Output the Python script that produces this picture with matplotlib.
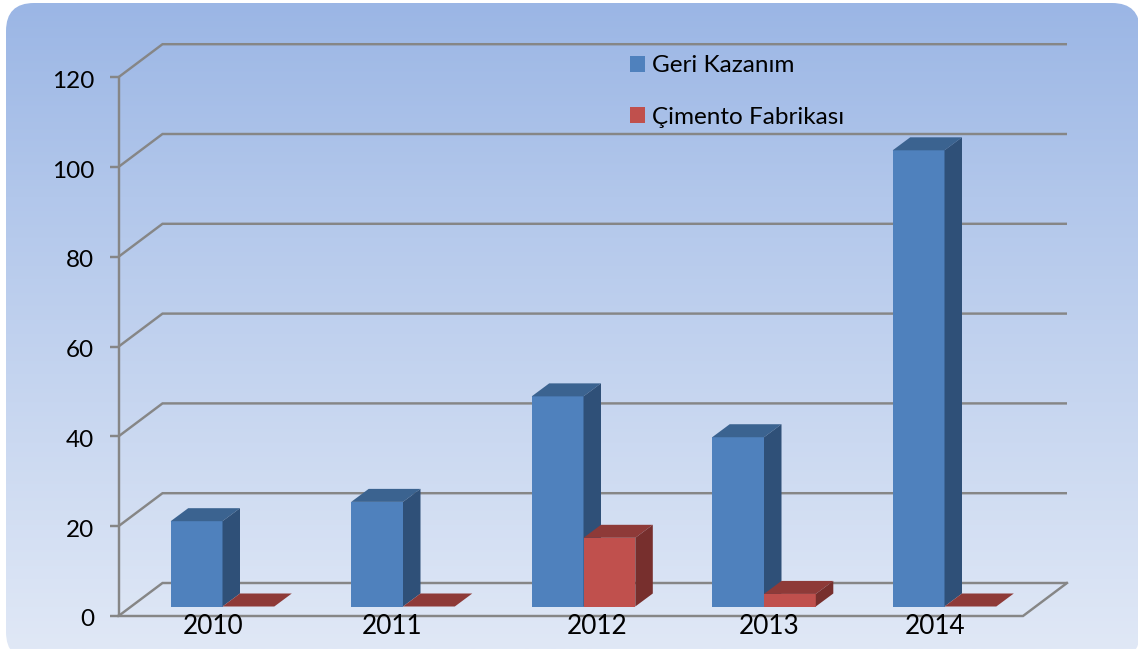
import numpy as np
import matplotlib
matplotlib.use("Agg")
import matplotlib.pyplot as plt
from matplotlib.patches import FancyBboxPatch, Polygon, Patch
from matplotlib.transforms import Affine2D

years = ["2010", "2011", "2012", "2013", "2014"]
geri_kazanim = [19, 23.3, 46.8, 37.7, 101.6]
cimento = [0, 0, 15.3, 2.8, 0]
y_ticks = [0, 20, 40, 60, 80, 100, 120]
series_names = ["Geri Kazanım", "Çimento Fabrikası"]

W, H = 1138, 649
X0, PX_X = 118.5, 180.9      # pixel of category 0, pixels per category
Y0, PX_Y = 616.0, 4.49       # pixel of value 0, pixels per value
to_x = lambda px: px / PX_X
to_y = lambda px: px / PX_Y

plt.rcParams["font.family"] = ["Lato", "DejaVu Sans"]
fig = plt.figure(figsize=(W / 100, H / 100), dpi=100, facecolor="white")
ax = fig.add_axes([0, 0, 1, 1])
xlim = ((0 - X0) / PX_X, (W - X0) / PX_X)
ylim = ((Y0 - H) / PX_Y, Y0 / PX_Y)
ax.axis("off")

# rounded panel with vertical gradient
top_c = np.array([155, 182, 229]) / 255
mid_c = np.array([178, 199, 235]) / 255
bot_c = np.array([224, 232, 246]) / 255
t = np.linspace(0, 1, 256)[:, None]
grad = np.where(t < 0.3, top_c + (mid_c - top_c) * (t / 0.3),
                mid_c + (bot_c - mid_c) * ((t - 0.3) / 0.7))[:, None, :]
panel_l, panel_r = to_x(6 - X0), to_x(1150 - X0)
panel_t = to_y(Y0 - 3)
im = ax.imshow(grad, extent=(panel_l, panel_r, to_y(Y0 - 649), panel_t),
               origin="upper", aspect="auto", zorder=0)
ax.set_xlim(*xlim)
ax.set_ylim(*ylim)

# rounded clip is defined in pixel space so the corners stay circular
clip = FancyBboxPatch((6 + 28, 649 - 660 + 28), 1078, 601,
                      boxstyle="round,pad=28,rounding_size=28",
                      transform=Affine2D(), facecolor="none", edgecolor="none")
ax.add_patch(clip)
im.set_clip_path(clip)

grid_c = "#868686"
lw = 1.75
dx_w, dy_w = to_x(44), to_y(33)   # wall depth
n = len(years)

for v in y_ticks:
    ax.plot([0, dx_w, n + dx_w], [v, v + dy_w, v + dy_w], color=grid_c, lw=lw,
            zorder=1, solid_joinstyle="miter", solid_capstyle="butt")
    ax.plot([to_x(-9), 0], [v, v], color=grid_c, lw=lw, zorder=1, solid_capstyle="butt")
    ax.text(to_x(-24.5), v - to_y(4), str(v), ha="right", va="center", fontsize=17.5,
            color="black", zorder=6)
ax.plot([0, 0], [0, y_ticks[-1]], color=grid_c, lw=lw, zorder=1, solid_capstyle="butt")
ax.plot([0, n, n + dx_w], [0, 0, dy_w], color=grid_c, lw=lw, zorder=1,
        solid_joinstyle="miter", solid_capstyle="projecting")

# bars
floor = to_y(9.5)
bw = to_x(51.8)
bar_dx, bar_dy = to_x(17.5), to_y(13)
start = to_x(52.2)
spacing = 180.5 / PX_X
series = [
    (geri_kazanim, "#4F81BD", "#3B6390", "#2F5078", 0),
    (cimento, "#C0504D", "#8E3A38", "#772F2D", 1),
]
for vals, front, top, side, k in series:
    xs = np.arange(n) * spacing + start + k * bw
    ax.bar(xs, vals, width=bw, bottom=floor, align="edge", color=front, linewidth=0, zorder=3 + k * 0.1)
    for x, v in zip(xs, vals):
        y = floor + v
        ax.add_patch(Polygon([(x, y), (x + bw, y), (x + bw + bar_dx, y + bar_dy), (x + bar_dx, y + bar_dy)],
                             closed=True, facecolor=top, edgecolor="none", zorder=3 + k * 0.1))
        ax.add_patch(Polygon([(x + bw, floor), (x + bw + bar_dx, floor + bar_dy),
                              (x + bw + bar_dx, y + bar_dy), (x + bw, y)],
                             closed=True, facecolor=side, edgecolor="none", zorder=3 + k * 0.1))

# category labels, placed unevenly in the reference
label_px = [94.5, 273.5, 478.5, 650.5, 816.5]
for lab, px in zip(years, label_px):
    ax.text(to_x(px), to_y(-10), lab, ha="center", va="center", fontsize=18.8, color="black", zorder=6)

handles = [Patch(facecolor="#4F81BD", label=series_names[0]),
           Patch(facecolor="#C0504D", label=series_names[1])]
ax.legend(handles=handles, loc="upper left", bbox_to_anchor=(630 / W, 1 - 55.5 / H),
          bbox_transform=fig.transFigure, frameon=False, fontsize=17.5,
          handlelength=0.62, handleheight=0.62, handletextpad=0.29, labelspacing=1.25,
          borderpad=0, borderaxespad=0, labelcolor="black")

fig.savefig("out.png", dpi=100, facecolor="white")
